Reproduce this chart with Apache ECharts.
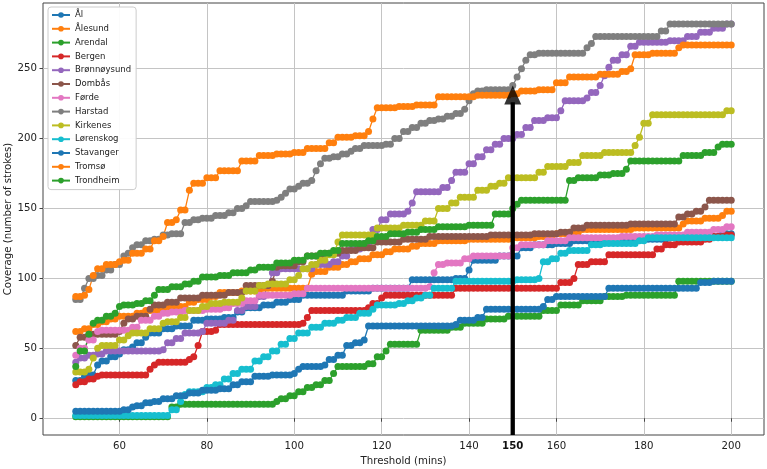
<!DOCTYPE html>
<html>
<head>
<meta charset="utf-8">
<script src="https://cdn.jsdelivr.net/npm/echarts@6/dist/echarts.min.js"></script>
<style>
  html, body { margin: 0; padding: 0; background: #fff; }
  #chart { width: 767px; height: 469px; }
</style>
</head>
<body>
<div id="chart"></div>
<script>
// step data: [threshold, coverage] where the value changes
const al = [[50,27],[52,30],[53,31],[55,38],[56,41],[58,44],[60,46],[61,49],[63,51],[64,54],[66,58],[67,61],[70,64],[73,66],[77,70],[80,71],[84,72],[87,76],[89,79],[93,81],[96,83],[99,85],[102,88],[112,91],[118,93],[127,99],[137,100],[140,106],[141,113],[147,116],[152,122],[155,124],[160,125],[164,127],[175,128],[186,129],[195,130],[198,132]]
const alesund = [[50,62],[52,64],[54,67],[56,69],[58,71],[60,73],[64,75],[66,77],[70,79],[72,80],[76,83],[78,85],[81,87],[83,90],[88,91],[93,93],[104,103],[105,105],[108,108],[111,110],[113,112],[115,114],[118,117],[121,119],[123,121],[127,123],[129,125],[133,127],[140,128],[150,129],[156,130],[160,132],[163,133],[166,135],[178,136],[189,139],[190,141],[194,143],[198,145],[199,148]]
const arendal = [[50,1],[72,8],[74,10],[96,12],[97,14],[99,16],[101,19],[103,22],[105,24],[107,27],[109,32],[110,37],[117,39],[119,44],[121,48],[122,53],[129,63],[136,65],[139,68],[144,71],[149,73],[157,77],[161,81],[166,84],[171,87],[176,88],[188,98]]
const bergen = [[50,24],[51,26],[53,28],[55,30],[56,31],[67,35],[68,38],[69,40],[76,42],[77,44],[78,52],[79,62],[82,63],[83,67],[102,68],[103,72],[104,77],[117,79],[118,82],[120,86],[121,88],[134,88],[137,93],[161,97],[164,100],[165,110],[168,112],[172,117],[183,121],[185,124],[188,126],[194,128],[196,130],[199,131]]
const bronnoysund = [[50,40],[51,43],[53,45],[55,46],[57,48],[70,49],[71,54],[73,57],[75,61],[79,62],[80,68],[85,70],[87,77],[89,80],[92,87],[94,95],[95,104],[97,107],[105,110],[109,112],[111,116],[113,121],[116,125],[118,135],[120,142],[122,146],[126,148],[127,154],[128,162],[134,165],[136,170],[137,176],[140,182],[142,187],[144,192],[146,196],[148,200],[151,203],[153,208],[155,213],[158,215],[161,220],[162,227],[167,229],[168,233],[170,238],[171,245],[172,251],[173,256],[175,260],[177,266],[179,269],[186,270],[190,273],[193,276],[196,279],[199,282]]
const dombas = [[50,52],[51,58],[53,60],[60,62],[61,68],[62,71],[64,73],[67,78],[68,81],[71,83],[74,86],[79,88],[85,90],[89,95],[95,98],[96,108],[97,109],[101,112],[103,116],[107,118],[111,120],[115,122],[119,126],[125,128],[131,130],[145,131],[155,132],[161,133],[164,136],[167,138],[177,139],[188,144],[190,146],[192,148],[194,151],[195,156]]
const forde = [[50,45],[51,50],[53,56],[55,62],[56,63],[63,65],[65,70],[68,73],[70,75],[72,76],[75,77],[80,78],[84,79],[86,82],[89,84],[92,88],[100,89],[103,93],[131,94],[132,104],[133,110],[135,111],[139,114],[141,116],[150,122],[152,124],[158,127],[163,129],[175,130],[183,131],[190,133],[196,135],[199,137]]
const harstad = [[50,85],[52,93],[53,100],[55,102],[57,106],[59,110],[61,116],[62,118],[63,122],[64,124],[66,127],[68,128],[70,131],[72,132],[75,140],[77,142],[79,143],[82,145],[85,147],[87,150],[89,152],[90,155],[96,156],[97,158],[98,161],[99,164],[101,166],[102,168],[104,170],[105,177],[106,182],[107,186],[109,187],[111,189],[113,191],[114,193],[116,195],[121,196],[123,200],[125,205],[127,208],[129,211],[131,213],[133,214],[135,216],[137,218],[139,221],[140,227],[141,232],[142,234],[144,235],[150,238],[151,244],[152,250],[153,256],[154,260],[156,261],[167,265],[168,268],[169,273],[184,277],[186,282]]
const kirkenes = [[50,33],[53,35],[54,43],[55,50],[56,52],[60,56],[62,59],[63,61],[67,64],[70,68],[71,69],[74,72],[76,77],[79,80],[81,82],[84,83],[88,86],[89,91],[92,95],[94,96],[99,99],[101,102],[102,107],[104,110],[106,113],[108,117],[110,126],[111,131],[119,136],[125,138],[130,141],[133,150],[136,154],[138,158],[142,163],[145,166],[147,168],[149,172],[156,176],[158,180],[163,183],[166,188],[171,190],[178,195],[179,201],[180,211],[182,217],[199,220]]
const lorenskog = [[50,2],[72,6],[74,12],[75,17],[76,19],[80,22],[82,24],[84,28],[86,32],[88,35],[91,41],[93,44],[95,48],[97,53],[99,57],[101,61],[104,65],[107,68],[110,70],[112,72],[115,75],[118,78],[119,81],[124,82],[126,84],[128,86],[130,88],[132,93],[137,98],[151,99],[156,100],[157,112],[159,114],[161,118],[163,120],[168,124],[171,125],[179,127],[181,129]]
const stavanger = [[50,5],[61,6],[63,8],[64,9],[66,11],[68,12],[70,14],[73,16],[76,18],[79,20],[83,21],[86,24],[88,26],[91,30],[95,31],[100,32],[101,35],[102,37],[107,38],[108,42],[110,45],[112,52],[114,54],[116,56],[117,66],[137,67],[138,70],[142,72],[144,78],[157,80],[158,85],[160,87],[172,93],[193,97],[196,98]]
const tromso = [[50,87],[52,88],[53,92],[54,102],[55,107],[57,110],[60,112],[61,113],[63,118],[66,121],[68,127],[70,130],[71,140],[73,142],[74,149],[76,163],[77,168],[80,172],[83,177],[88,184],[92,188],[96,189],[100,190],[103,193],[108,197],[110,201],[114,202],[117,205],[118,214],[119,222],[124,223],[128,224],[133,230],[142,231],[150,232],[152,234],[156,235],[160,240],[163,244],[170,246],[175,248],[177,250],[178,260],[182,261],[188,265],[189,267]]
const trondheim = [[50,37],[51,48],[53,60],[54,68],[55,70],[57,73],[59,75],[60,80],[61,81],[64,82],[66,84],[68,88],[69,92],[72,94],[75,96],[77,98],[79,101],[83,102],[86,104],[90,106],[92,108],[96,111],[100,113],[103,116],[106,118],[109,120],[111,125],[117,127],[119,130],[122,132],[126,133],[129,135],[133,137],[140,138],[146,146],[150,150],[151,153],[152,156],[163,170],[165,172],[170,174],[173,175],[176,178],[177,184],[189,188],[194,190],[197,194],[198,196]]

const names = ['Ål', 'Ålesund', 'Arendal', 'Bergen', 'Brønnøysund', 'Dombås', 'Førde', 'Harstad', 'Kirkenes', 'Lørenskog', 'Stavanger', 'Tromsø', 'Trondheim']
const steps = [al, alesund, arendal, bergen, bronnoysund, dombas, forde, harstad, kirkenes, lorenskog, stavanger, tromso, trondheim]
const colors = ['#1f77b4', '#ff7f0e', '#2ca02c', '#d62728', '#9467bd', '#8c564b', '#e377c2', '#7f7f7f', '#bcbd22', '#17becf', '#1f77b4', '#ff7f0e', '#2ca02c']

const xTicks = [60, 80, 100, 120, 140, 160, 180, 200]
const xLabels = [60, 80, 100, 120, 140, 150, 160, 180, 200]
const yTicks = [0, 50, 100, 150, 200, 250]

// arrow marking the 150 min threshold
const arrowX = 150
const arrowBottom = -12
const arrowTip = 238

// every minute from 50 to 200 holds the last value read
const thresholds = []
for (let t = 50; t <= 200; t++) thresholds.push(t)

const toPoints = (s) => {
  let j = 0
  return thresholds.map(t => {
    while (j + 1 < s.length && s[j + 1][0] <= t) j++
    return [t, s[j][1]]
  })
}

const chart = echarts.init(document.getElementById('chart'))

const series = names.map((name, i) => ({
  name,
  type: 'line',
  data: toPoints(steps[i]),
  symbol: 'circle',
  symbolSize: 7,
  showSymbol: true,
  showAllSymbol: true,
  lineStyle: { width: 1.3, color: colors[i] },
  itemStyle: { color: colors[i] },
  emphasis: { disabled: true }
}))

series.push({
  name: 'arrow',
  type: 'line',
  data: [[arrowX, arrowBottom], [arrowX, arrowTip - 12]],
  symbol: 'none',
  lineStyle: { width: 4.3, color: '#000' },
  z: 5
})
series.push({
  name: 'arrowhead',
  type: 'scatter',
  data: [[arrowX, arrowTip - 6.8]],
  symbol: 'triangle',
  symbolSize: [17, 19],
  itemStyle: { color: '#000' },
  z: 6
})

const axisFont = { fontFamily: 'DejaVu Sans', fontSize: 10.2, color: '#222' }

chart.setOption({
  animation: false,
  textStyle: { fontFamily: 'DejaVu Sans' },
  grid: {
    left: 43, right: 3, top: 3, bottom: 34,
    outerBoundsMode: 'none',
    containLabel: false,
    show: true, borderColor: '#444', borderWidth: 1, backgroundColor: 'transparent'
  },
  legend: {
    data: names,
    orient: 'vertical',
    left: 48,
    top: 7,
    padding: [3, 5, 4, 3],
    itemGap: 3.8,
    itemWidth: 18,
    itemHeight: 7,
    backgroundColor: 'rgba(255,255,255,0.92)',
    borderColor: '#cccccc',
    borderWidth: 1,
    borderRadius: 3,
    textStyle: { fontFamily: 'DejaVu Sans', fontSize: 8.5, color: '#222', lineHeight: 10 }
  },
  xAxis: {
    type: 'value',
    min: 42.5,
    max: 207.5,
    name: 'Threshold (mins)',
    nameLocation: 'middle',
    nameGap: 21.5,
    nameMoveOverlap: false,
    nameTextStyle: axisFont,
    axisLine: { show: false },
    axisTick: { show: true, length: 3.5, customValues: xTicks, lineStyle: { color: '#444' } },
    axisLabel: {
      customValues: xLabels,
      margin: 6,
      ...axisFont,
      formatter: v => v === arrowX ? '{b|' + v + '}' : String(v),
      rich: { b: { fontFamily: 'DejaVu Sans', fontSize: 10.2, fontWeight: 'bold', color: '#111' } }
    },
    splitLine: { show: true, lineStyle: { color: '#c4c4c4', width: 1 } }
  },
  yAxis: {
    type: 'value',
    min: -12,
    max: 297,
    name: 'Coverage (number of strokes)',
    nameLocation: 'middle',
    nameGap: 29.5,
    nameMoveOverlap: false,
    nameTextStyle: axisFont,
    axisLine: { show: false },
    axisTick: { show: true, length: 3.5, customValues: yTicks, lineStyle: { color: '#444' } },
    axisLabel: { customValues: yTicks, margin: 6, ...axisFont },
    splitLine: { show: true, lineStyle: { color: '#c4c4c4', width: 1 } }
  },
  series
})
</script>
</body>
</html>
